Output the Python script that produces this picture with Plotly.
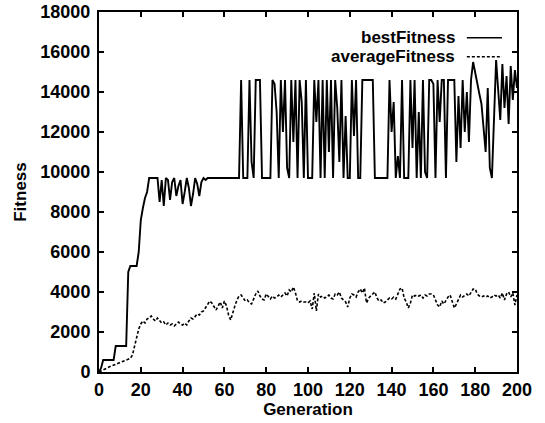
import plotly.graph_objects as go

generations = list(range(0, 201))

best_fitness = [
    0, 200, 600, 600, 600, 600, 600, 600, 1300, 1300,
    1300, 1300, 1300, 1300, 5000, 5300, 5300, 5300, 5300, 6000,
    7600, 8200, 8700, 9000, 9700, 9700, 9700, 9700, 9700, 8500,
    9600, 8300, 9700, 9600, 8600, 9500, 9700, 8800, 9300, 9600,
    8400, 9000, 9700, 9200, 8300, 8900, 9700, 9400, 8800, 9500,
    9700, 9600, 9700, 9700, 9700, 9700, 9700, 9700, 9700, 9700,
    9700, 9700, 9700, 9700, 9700, 9700, 9700, 9700, 14600, 9700,
    9700, 9700, 14600, 10500, 9700, 14600, 14600, 14600, 9700, 9700,
    9700, 9700, 9700, 14600, 14400, 13000, 9700, 14600, 12000, 14600,
    10200, 9700, 14600, 11500, 14600, 9700, 14600, 13500, 9700, 14600,
    9700, 9700, 9700, 14600, 12500, 14600, 9700, 14600, 9700, 14600,
    11000, 14600, 9700, 14600, 13200, 10500, 14600, 9700, 12800, 9700,
    9700, 14600, 11800, 14600, 9700, 9700, 14600, 14600, 14600, 14600,
    14600, 14600, 9700, 9700, 9700, 9700, 9700, 9700, 9700, 14600,
    12000, 13500, 9700, 10800, 9700, 14600, 9700, 9700, 9700, 14600,
    11200, 14600, 9700, 13000, 9700, 14600, 10000, 9700, 14600, 14600,
    14400, 9700, 14600, 12500, 14600, 14600, 9700, 14600, 14600, 14600,
    14600, 10500, 13800, 11200, 14600, 12000, 14000, 11500, 14600, 15500,
    14900, 14500, 13900, 13400, 12200, 11000, 14200, 10200, 9700, 13000,
    15600, 14100, 12600, 15400, 13200, 14800, 12400, 15300, 13600, 15100,
    14200,
]

average_fitness = [
    0, 60, 120, 180, 220, 260, 300, 340, 380, 420,
    450, 480, 520, 560, 600, 680, 850, 1250, 1750, 2150,
    2400, 2550, 2450, 2650, 2700, 2800, 2650, 2550, 2700, 2600,
    2450, 2500, 2350, 2450, 2350, 2400, 2300, 2400, 2500, 2400,
    2350, 2450, 2350, 2550, 2700, 2650, 2800, 2900, 2850, 3000,
    3050, 3200, 3350, 3550, 3450, 3300, 3100, 3300, 3500, 3200,
    3550, 3300, 2850, 2600, 3000, 3300, 3600, 3800, 3850, 3700,
    3550, 3600, 3450, 3400, 3650, 3900, 4050, 3800, 3650, 3600,
    3900, 3750, 3650, 3800, 3700, 3750, 3850, 3750, 3850, 3950,
    3800, 4100, 4000, 4250, 3950, 3550, 3500, 3550, 3500, 3500,
    3450, 3550, 3150, 3950, 3050, 3900, 3750, 3800, 3700, 3750,
    3850, 3700, 3650, 3900, 3850, 4000, 3700, 3600, 3500, 3250,
    3700, 3900, 3850, 3750, 4000, 4150, 3950, 4200, 3450, 3700,
    3800, 3900, 4000, 3700, 3550, 3600, 3450, 3500, 3600, 3700,
    3650, 3750, 3650, 3900, 4150, 4200, 3700, 3500, 3200, 3450,
    3850, 3800, 3850, 3800, 3850, 3700, 3850, 3800, 3900, 3900,
    3850, 3600, 3350, 3250, 3550, 3400, 3600, 3750, 3850, 3500,
    3200, 3400, 3600, 3850, 3750, 3850, 3900, 3800, 4000, 4150,
    4150, 3900, 3800, 3750, 3800, 3750, 3800, 3700, 3750, 3850,
    3800, 3850, 3700, 3950, 3600, 3900, 4000, 3750, 3950, 3350,
    3850,
]

series_names = ["bestFitness", "averageFitness"]
x_ticks = list(range(0, 201, 20))
y_ticks = list(range(0, 18001, 2000))
x_tick_labels = [str(v) for v in x_ticks]
y_tick_labels = [str(v) for v in y_ticks]

FONT = "Liberation Sans"
TICKSIZE = 18
TEXTSIZE = 17

fig = go.Figure()
fig.add_trace(go.Scatter(x=generations, y=best_fitness, mode="lines",
                         name=series_names[0],
                         line=dict(color="black", width=1.9)))
fig.add_trace(go.Scatter(x=generations, y=average_fitness, mode="lines",
                         name=series_names[1],
                         line=dict(color="black", width=1.6, dash="3px,2px")))

axis_common = dict(
    showgrid=False, zeroline=False, automargin=False,
    showline=True, linecolor="black", linewidth=2, mirror="ticks",
    ticks="inside", ticklen=5, tickwidth=1.5, tickcolor="black",
    tickfont=dict(family=FONT, size=TICKSIZE, color="black", weight="bold"),
)

fig.update_xaxes(range=[0, 200], tickvals=x_ticks, ticktext=x_tick_labels,
                 title=dict(text="Generation", standoff=0,
                            font=dict(family=FONT, size=TEXTSIZE, color="black", weight="bold")),
                 **axis_common)
fig.update_yaxes(range=[0, 18000], tickvals=y_ticks, ticktext=y_tick_labels,
                 ticklabelstandoff=3,
                 title=dict(text="Fitness", standoff=9,
                            font=dict(family=FONT, size=TEXTSIZE, color="black", weight="bold")),
                 **axis_common)

# legend drawn gnuplot style: text on the left, sample on the right
legend_y = [0.9285, 0.8756]
dashes = ["solid", "dash"]
for name, ly, dsh in zip(series_names, legend_y, dashes):
    fig.add_annotation(xref="paper", yref="paper", x=0.856, y=ly,
                       text=name, showarrow=False, xanchor="right", yanchor="middle",
                       font=dict(family=FONT, size=TEXTSIZE, color="black", weight="bold"))
    fig.add_shape(type="line", xref="paper", yref="paper",
                  x0=0.880, x1=0.964, y0=ly, y1=ly,
                  line=dict(color="black", width=1.6 if dsh == "solid" else 1.4,
                            dash="solid" if dsh == "solid" else "3px,2px"))

fig.update_layout(
    width=545, height=423,
    margin=dict(l=99, r=28, t=12, b=51),
    paper_bgcolor="white", plot_bgcolor="white",
    showlegend=False,
)

fig.write_html("out.html")
